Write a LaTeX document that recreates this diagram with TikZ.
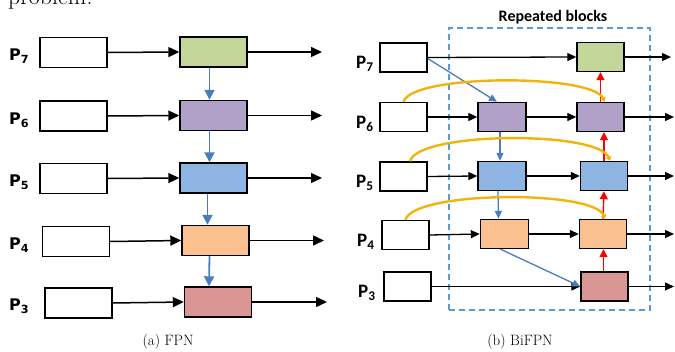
\documentclass[tikz,border=0pt]{standalone}
\usepackage{fontspec}
\newfontfamily\dejafont{DejaVu Sans}
\newfontfamily\carlfont{Carlito}
\usetikzlibrary{arrows.meta,calc}
\definecolor{cgreen}{HTML}{C4D79B}
\definecolor{cpurple}{HTML}{B1A0C7}
\definecolor{cblue}{HTML}{8DB4E2}
\definecolor{corange}{HTML}{FAC08F}
\definecolor{cred}{HTML}{D99694}
\definecolor{fblue}{HTML}{4A7EBB}
\definecolor{cyel}{HTML}{F2B40C}
\definecolor{cframe}{HTML}{5B9BD5}
\definecolor{cdred}{HTML}{FF0000}
\tikzset{
  bigbox/.style={draw=black, line width=1.4pt, inner sep=0pt, minimum width=67pt, minimum height=30pt},
  smbox/.style={draw=black, line width=1.4pt, inner sep=0pt, minimum width=47pt, minimum height=29pt},
  blkA/.style={draw=black, line width=1.5pt, -{Triangle[length=11pt,width=10pt]}},
  blkB/.style={draw=black, line width=1.3pt, -{Triangle[length=9pt,width=8pt]}},
  bluA/.style={draw=fblue, line width=1.8pt, -{Triangle[length=10pt,width=10pt]}},
  bluB/.style={draw=fblue, line width=1.3pt, -{Triangle[length=8pt,width=7pt]}},
  redB/.style={draw=cdred, line width=1.4pt, -{Triangle[length=8pt,width=8pt]}},
  yelB/.style={draw=cyel, line width=2.4pt, -{Triangle[length=4pt,width=6pt]}},
  plabA/.style={anchor=west, inner sep=0pt, font=\dejafont\bfseries\fontsize{16}{18}\selectfont},
  plabB/.style={anchor=west, inner sep=0pt, font=\carlfont\bfseries\fontsize{19}{21}\selectfont},
  capt/.style={inner sep=0pt, font=\fontsize{15}{18}\selectfont},
}
\begin{document}
\begin{tikzpicture}[x=1pt,y=-1pt]
\useasboundingbox (0,0) rectangle (675,352);
% cut-off text at the top
\node[anchor=base west, inner sep=0pt, font=\fontsize{24}{28}\selectfont] (prob) at (8,5) {problem.};
%% ---------------- FPN ----------------
\node[bigbox] (L7) at (73.5,52.5) {};
\node[bigbox] (L6) at (73.5,116) {};
\node[bigbox] (L5) at (73.5,178.5) {};
\node[bigbox] (L4) at (76,241.5) {};
\node[bigbox] (L3) at (78.5,303) {};
\node[bigbox, fill=cgreen] (U7) at (213.5,52) {};
\node[bigbox, fill=cpurple] (U6) at (213.5,115.5) {};
\node[bigbox, fill=cblue] (U5) at (213.5,178) {};
\node[bigbox, fill=corange] (U4) at (215.5,240.5) {};
\node[bigbox, fill=cred] (U3) at (218,302) {};
\node[plabA] (A7) at (9,56) {P\textsubscript{7}};
\node[plabA] (A6) at (9,120) {P\textsubscript{6}};
\node[plabA] (A5) at (9,182) {P\textsubscript{5}};
\node[plabA] (A4) at (9,245) {P\textsubscript{4}};
\node[plabA] (A3) at (9,306) {P\textsubscript{3}};
\coordinate (O7) at (322,52);
\coordinate (O6) at (322,115.5);
\coordinate (O5) at (322,178);
\coordinate (O4) at (324,240.5);
\coordinate (O3) at (327,302);
\foreach \i in {7,6,5,4,3} {
  \draw[blkA] (L\i.east) -- (U\i.west);
  \draw[blkA] (U\i.east) -- (O\i);
}
\draw[bluA] ($(U7.south)+(-4,0)$) -- ($(U6.north)+(-4,0)$);
\draw[bluA] ($(U6.south)+(-4,0)$) -- ($(U5.north)+(-4,0)$);
\draw[bluA] ($(U5.south)+(-6,0)$) -- ($(U4.north)+(-8,0)$);
\draw[bluA] ($(U4.south)+(-6,0)$) -- ($(U3.north)+(-9,0)$);
\node[capt] (capA) at (168,342) {(a) FPN};
%% ---------------- BiFPN ----------------
\node[draw=cframe, line width=1.3pt, dash pattern=on 6pt off 4pt, minimum width=201pt, minimum height=282pt, inner sep=0pt] (frame) at (549.5,169) {};
\node[inner sep=0pt, font=\carlfont\bfseries\fontsize{16}{18}\selectfont] (rep) at (553,17) {Repeated blocks};
\node[smbox] (Q7) at (403.5,57.5) {};
\node[smbox] (Q6) at (403.5,117) {};
\node[smbox] (Q5) at (403.5,176.5) {};
\node[smbox] (Q4) at (405.5,235) {};
\node[smbox] (Q3) at (407.5,286.5) {};
\node[smbox, minimum width=48pt, fill=cpurple] (M6) at (502,117) {};
\node[smbox, minimum width=48pt, fill=cblue] (M5) at (502,176) {};
\node[smbox, minimum width=48pt, fill=corange] (M4) at (504.5,234) {};
\node[smbox, fill=cgreen] (R7) at (600.5,57) {};
\node[smbox, fill=cpurple] (R6) at (600.5,117) {};
\node[smbox, fill=cblue] (R5) at (604,176) {};
\node[smbox, fill=corange] (R4) at (603,234) {};
\node[smbox, fill=cred] (R3) at (604.5,286.5) {};
\node[plabB] (B7) at (356,64) {P\textsubscript{7}};
\node[plabB] (B6) at (356,124) {P\textsubscript{6}};
\node[plabB] (B5) at (356,183) {P\textsubscript{5}};
\node[plabB] (B4) at (357,242) {P\textsubscript{4}};
\node[plabB] (B3) at (358,293) {P\textsubscript{3}};
\coordinate (E7) at (671,57);
\coordinate (E6) at (674,117);
\coordinate (E5) at (674,176);
\coordinate (E4) at (674,234);
\coordinate (E3) at (674,286.5);
% black
\draw[blkB] (Q7.east) -- (R7.west);
\draw[blkB] (R7.east) -- (E7);
\foreach \i in {6,5,4} {
  \draw[blkB] (Q\i.east) -- (M\i.west);
  \draw[blkB] (M\i.east) -- (R\i.west);
  \draw[blkB] (R\i.east) -- (E\i);
}
\draw[blkB] (Q3.east) -- (R3.west);
\draw[blkB] (R3.east) -- (E3);
% blue
\draw[bluB] ($(Q7.east)+(0,1)$) -- ($(M6.north)+(-5,0)$);
\draw[bluB] ($(M6.south)+(-2,0)$) -- ($(M5.north)+(-2,0)$);
\draw[bluB] ($(M5.south)+(-4,0)$) -- ($(M4.north)+(-6,0)$);
\draw[bluB] ($(M4.south)+(-4,0)$) -- (R3.west);
% red
\draw[redB] (R6.north) -- (R6.north |- R7.south);
\draw[redB] (R5.north) -- (R5.north |- R6.south);
\draw[redB] (R4.north) -- ($(R4.north |- R5.south)+(1,0)$);
\draw[redB] ($(R3.north)+(-1,0)$) -- ($(R3.north |- R4.south)+(-1,0)$);
% yellow arcs
\draw[yelB] (Q6.north) .. controls +(8,-28) and +(-12,-28) .. ($(R6.north)+(4,0)$);
\draw[yelB] ($(Q5.north)+(6.5,0)$) .. controls +(8,-30) and +(-12,-30) .. ($(R5.north)+(6,0)$);
\draw[yelB] (Q4.north) .. controls +(8,-29) and +(-12,-29) .. ($(R4.north)+(2,0)$);
\node[capt] (capB) at (520,342) {(b) BiFPN};
\end{tikzpicture}
\end{document}
